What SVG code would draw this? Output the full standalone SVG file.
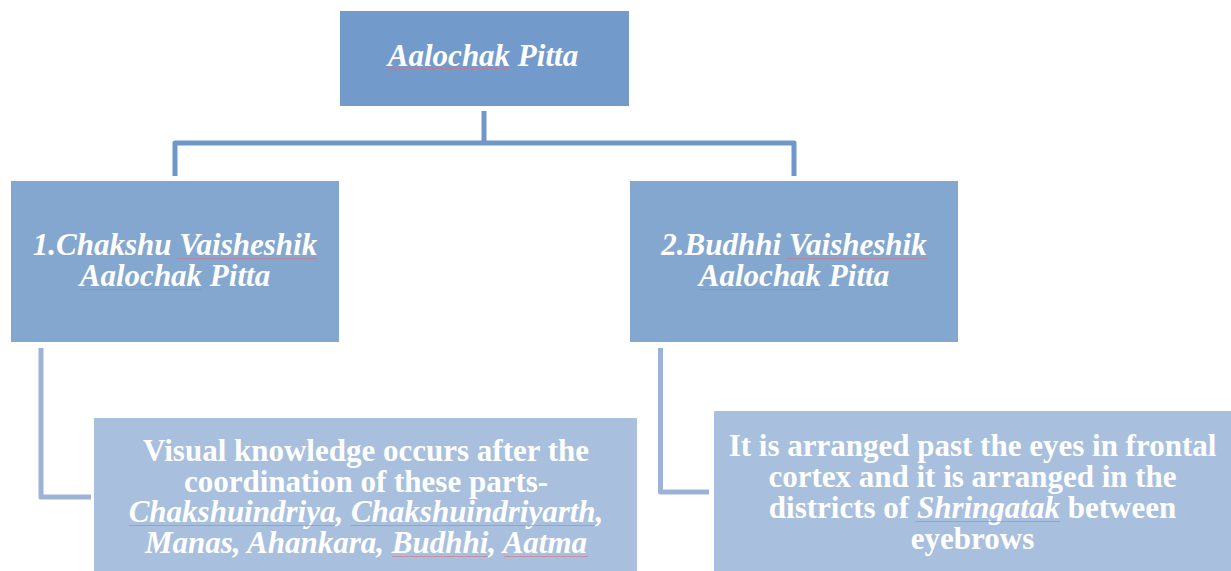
<svg xmlns="http://www.w3.org/2000/svg" width="1231" height="571" viewBox="0 0 1231 571">
<style>
.t{font-family:"Liberation Serif","Times New Roman",serif;font-size:31px;font-weight:bold;fill:#ffffff;text-anchor:middle}
.i{font-style:italic}
.c1{fill:none;stroke:#7097C9;stroke-width:5;stroke-linejoin:round}
.c2{fill:none;stroke:#9CB3D7;stroke-width:5;stroke-linejoin:round}
.sq{stroke:#D9707C;stroke-width:0.8;stroke-opacity:0.75}
</style>
<rect width="1231" height="571" fill="#ffffff"/>
<g id="connectors">
<path class="c1" d="M484,111 V143"/>
<path class="c1" d="M175,176 V143 H794 V176"/>
<path class="c2" d="M41,348 V497 H91"/>
<path class="c2" d="M660.5,348 V492 H709"/>
</g>
<g id="root">
<rect x="340" y="11" width="289" height="95" fill="#729BCB"/>
<text class="t i" x="483" y="66">Aalochak Pitta</text>
<line class="sq" x1="387" y1="68.5" x2="509" y2="68.5"/>
</g>
<g id="chakshu">
<rect x="11" y="181" width="328" height="161" fill="#84A7D0"/>
<text class="t i" x="175" y="255">1.Chakshu Vaisheshik</text>
<text class="t i" x="175" y="286">Aalochak Pitta</text>
<line class="sq" x1="177" y1="258.5" x2="318" y2="258.5"/>
<line class="sq" x1="80" y1="289.5" x2="202" y2="289.5"/>
</g>
<g id="budhhi">
<rect x="630" y="181" width="328" height="161" fill="#84A7D0"/>
<text class="t i" x="794" y="255">2.Budhhi Vaisheshik</text>
<text class="t i" x="794" y="286">Aalochak Pitta</text>
<line class="sq" x1="786" y1="258.5" x2="927" y2="258.5"/>
<line class="sq" x1="699" y1="289.5" x2="821" y2="289.5"/>
</g>
<g id="visual">
<rect x="94" y="418" width="543" height="153" fill="#A8C0DE"/>
<text class="t" x="366" y="461">Visual knowledge occurs after the</text>
<text class="t" x="366" y="492">coordination of these parts-</text>
<text class="t i" x="366" y="522">Chakshuindriya, Chakshuindriyarth,</text>
<text class="t i" x="366" y="553">Manas, Ahankara, Budhhi, Aatma</text>
<line class="sq" x1="129" y1="525.5" x2="335" y2="525.5"/>
<line class="sq" x1="351" y1="525.5" x2="595" y2="525.5"/>
<line class="sq" x1="392" y1="556.5" x2="488" y2="556.5"/>
<line class="sq" x1="504" y1="556.5" x2="588" y2="556.5"/>
</g>
<g id="location">
<rect x="714" y="411" width="517" height="160" fill="#A8C0DE"/>
<text class="t" x="972.5" y="456">It is arranged past the eyes in frontal</text>
<text class="t" x="972.5" y="487">cortex and it is arranged in the</text>
<text class="t" x="972.5" y="518">districts of <tspan class="i">Shringatak</tspan> between</text>
<text class="t" x="972.5" y="549">eyebrows</text>
<line class="sq" x1="915" y1="521.5" x2="1060" y2="521.5"/>
</g>
</svg>
